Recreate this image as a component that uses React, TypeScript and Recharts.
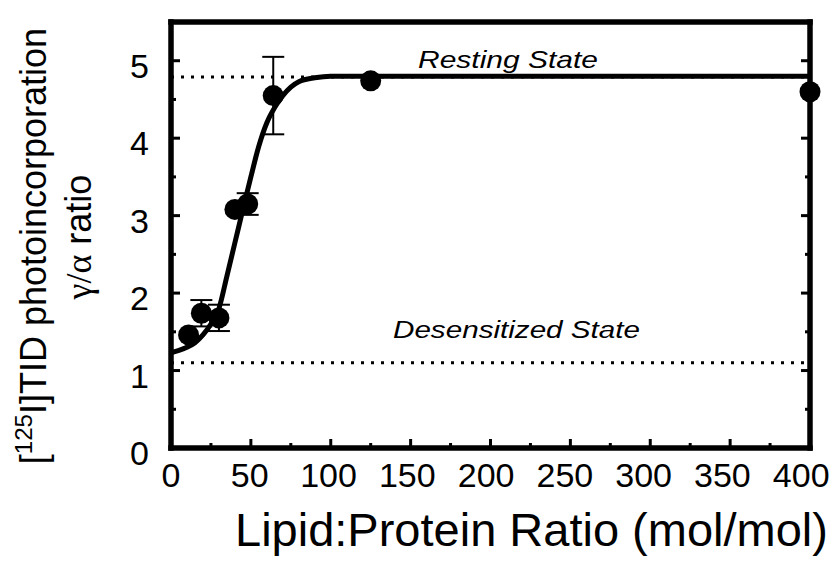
import { ComposedChart, XAxis, YAxis, Line, Scatter, ErrorBar, ReferenceLine } from 'recharts';

// measured points
const lipidRatio = [11, 19, 30, 40, 48, 64, 125, 400];
const gammaAlpha = [1.46, 1.74, 1.68, 3.08, 3.15, 4.55, 4.74, 4.6];
const sem = [0, 0.17, 0.17, 0, 0.14, 0.5, 0, 0];

// fitted curve
const fitX = [0, 5, 10, 15, 20, 25, 30, 35, 40, 45, 50, 55, 60, 65, 70, 75, 80, 90, 100, 150, 400];
const fitY = [1.23, 1.26, 1.3, 1.36, 1.46, 1.6, 1.8, 2.22, 2.65, 3.08, 3.5, 3.9, 4.2, 4.4, 4.55, 4.66, 4.73, 4.78, 4.8, 4.8, 4.8];

const restingLevel = 4.79;
const desensitizedLevel = 1.1;

const xTicks = [0, 25, 50, 75, 100, 125, 150, 175, 200, 225, 250, 275, 300, 325, 350, 375, 400];
const yTicks = [0, 0.5, 1, 1.5, 2, 2.5, 3, 3.5, 4, 4.5, 5];

const points = lipidRatio.map((x, i) => ({ x, y: gammaAlpha[i], err: sem[i] }));
const fit = fitX.map((x, i) => ({ x, y: fitY[i] }));

const FONT = '"Liberation Sans", Arial, sans-serif';
const axisStyle = { stroke: '#000', strokeWidth: 5.5, strokeLinecap: 'square' as const };

const BottomTick = ({ x, y, payload }: any) => {
  const major = payload.value % 50 === 0;
  // labels in the original sit a little left of their ticks towards the right end
  const shift = -payload.value * 0.022;
  return (
    <g>
      <line x1={x} x2={x} y1={y} y2={y - (major ? 9 : 5)} stroke="#000" strokeWidth={3} />
      {major && (
        <text x={x + shift} y={y + 39} textAnchor="middle" fontSize={34} fontFamily={FONT} fill="#000">
          {payload.value}
        </text>
      )}
    </g>
  );
};

const TopTick = ({ x, y, payload }: any) => {
  const major = payload.value % 50 === 0;
  return <line x1={x} x2={x} y1={y} y2={y + (major ? 8 : 5)} stroke="#000" strokeWidth={3} />;
};

const LeftTick = ({ x, y, payload }: any) => {
  const major = Number.isInteger(payload.value);
  return (
    <g>
      <line x1={x} x2={x + (major ? 9 : 5)} y1={y} y2={y} stroke="#000" strokeWidth={3} />
      {major && (
        <text x={x - 22} y={y + 17} textAnchor="end" fontSize={34} fontFamily={FONT} fill="#000">
          {payload.value}
        </text>
      )}
    </g>
  );
};

const RightTick = ({ x, y, payload }: any) => {
  const major = Number.isInteger(payload.value);
  return <line x1={x} x2={x - (major ? 9 : 5)} y1={y} y2={y} stroke="#000" strokeWidth={3} />;
};

const Dot = ({ cx, cy }: any) => <circle cx={cx} cy={cy} r={10.5} fill="#000" />;

export default function App() {
  return (
    <div style={{ position: 'absolute', left: 0, top: 0, width: 835, height: 562, background: '#fff' }}>
      <ComposedChart width={835} height={562} margin={{ top: 21, right: 24, bottom: 113, left: 170 }}>
        <XAxis
          xAxisId={0}
          dataKey="x"
          type="number"
          domain={[0, 400]}
          ticks={xTicks}
          interval={0}
          height={1}
          tickSize={0}
          tickMargin={0}
          tickLine={false}
          axisLine={axisStyle}
          tick={<BottomTick />}
          label={{
            content: ({ viewBox }: any) => (
              <text x={viewBox.x + 64} y={viewBox.y + 98} fontSize={47} fontFamily={FONT} fill="#000">
                Lipid:Protein Ratio (mol/mol)
              </text>
            ),
          }}
        />
        <XAxis
          xAxisId="top"
          orientation="top"
          type="number"
          domain={[0, 400]}
          allowDataOverflow
          ticks={xTicks}
          interval={0}
          height={1}
          tickSize={0}
          tickMargin={0}
          tickLine={false}
          axisLine={axisStyle}
          tick={<TopTick />}
        />
        <YAxis
          yAxisId={0}
          dataKey="y"
          type="number"
          domain={[0, 5.5]}
          ticks={yTicks}
          interval={0}
          width={1}
          tickSize={0}
          tickMargin={0}
          tickLine={false}
          axisLine={axisStyle}
          tick={<LeftTick />}
          label={{
            content: () => (
              <g fontFamily={FONT} fill="#000">
                <text transform="rotate(-90 46 246)" x={46} y={246} textAnchor="middle" fontSize={36}>
                  [<tspan fontSize={24} dy={-14}>125</tspan>
                  <tspan dy={14}>I]TID photoincorporation</tspan>
                </text>
                <text transform="rotate(-90 91 237)" x={91} y={237} textAnchor="middle" fontSize={36}>
                  <tspan fontFamily='"Liberation Serif", serif'>γ/α</tspan> ratio
                </text>
              </g>
            ),
          }}
        />
        <YAxis
          yAxisId="right"
          orientation="right"
          type="number"
          domain={[0, 5.5]}
          allowDataOverflow
          ticks={yTicks}
          interval={0}
          width={1}
          tickSize={0}
          tickMargin={0}
          tickLine={false}
          axisLine={axisStyle}
          tick={<RightTick />}
        />
        <ReferenceLine
          y={restingLevel}
          stroke="#000"
          strokeWidth={3}
          strokeDasharray="3 7"
          label={{
            content: ({ viewBox }: any) => (
              <text
                x={viewBox.x + 247}
                y={viewBox.y - 9}
                fontSize={24}
                fontStyle="italic"
                fontFamily={FONT}
                textLength={180}
                lengthAdjust="spacingAndGlyphs"
                fill="#000"
              >
                Resting State
              </text>
            ),
          }}
        />
        <ReferenceLine
          y={desensitizedLevel}
          stroke="#000"
          strokeWidth={3}
          strokeDasharray="3 7"
          label={{
            content: ({ viewBox }: any) => (
              <text
                x={viewBox.x + 222}
                y={viewBox.y - 25}
                fontSize={23}
                fontStyle="italic"
                fontFamily={FONT}
                textLength={247}
                lengthAdjust="spacingAndGlyphs"
                fill="#000"
              >
                Desensitized State
              </text>
            ),
          }}
        />
        <Line
          data={fit}
          dataKey="y"
          type="monotone"
          stroke="#000"
          strokeWidth={5}
          dot={false}
          activeDot={false}
          isAnimationActive={false}
        />
        <Scatter data={points} dataKey="y" shape={<Dot />} isAnimationActive={false}>
          <ErrorBar dataKey="err" direction="y" width={11} stroke="#000" strokeWidth={2} />
        </Scatter>
      </ComposedChart>
    </div>
  );
}
